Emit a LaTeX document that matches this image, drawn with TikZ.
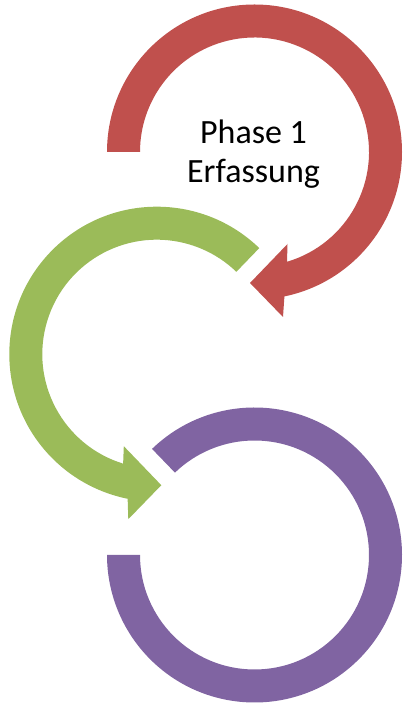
\documentclass[tikz,border=0pt]{standalone}
\usepackage{fontspec}
\setmainfont{Carlito}
\usetikzlibrary{calc}
\definecolor{phasered}{HTML}{C0504D}
\definecolor{phasegreen}{HTML}{9BBB59}
\definecolor{phasepurple}{HTML}{8064A2}
\tikzset{
  ringpart/.style={draw=none},
  phaselabel/.style={font=\fontsize{34}{39}\selectfont, align=center, inner sep=0pt, text=black}
}
\begin{document}
\begin{tikzpicture}[x=1pt,y=1pt]
\useasboundingbox (0,0) rectangle (405,704);
% ring centres
\coordinate (cr) at (254.5,552);
\coordinate (cg) at (156.8,349.8);
\coordinate (cp) at (254.5,149);
\def\ro{147.5}
\def\ri{114.5}

% red ring: clockwise arrow ending bottom left
\fill[ringpart, phasered]
  ($(cr)+(180:\ro)$) arc[start angle=180, end angle=-78.3, radius=\ro pt]
  -- ($(cr)+(28.5,-165)$) -- ($(cr)+(-4.5,-131)$) -- ($(cr)+(33,-92)$)
  -- ($(cr)+(-73.5:\ri)$) arc[start angle=-73.5, end angle=180, radius=\ri pt]
  -- cycle;

% green ring: counter-clockwise arrow ending bottom right
\fill[ringpart, phasegreen]
  ($(cg)+(46:\ro)$) arc[start angle=46, end angle=258.6, radius=\ro pt]
  -- ($(cg)+(-28.5,-165)$) -- ($(cg)+(4.5,-131)$) -- ($(cg)+(-33,-92)$)
  -- ($(cg)+(252.9:\ri)$) arc[start angle=252.9, end angle=46, radius=\ri pt]
  -- cycle;

% purple ring: open arc without head
\fill[ringpart, phasepurple]
  ($(cp)+(134:\ro)$) arc[start angle=134, end angle=-180, radius=\ro pt]
  -- ($(cp)+(180:\ri)$) arc[start angle=-180, end angle=134, radius=\ri pt]
  -- cycle;

\node[phaselabel] (phase1) at (253.5,550) {Phase 1\\Erfassung};
\end{tikzpicture}
\end{document}
